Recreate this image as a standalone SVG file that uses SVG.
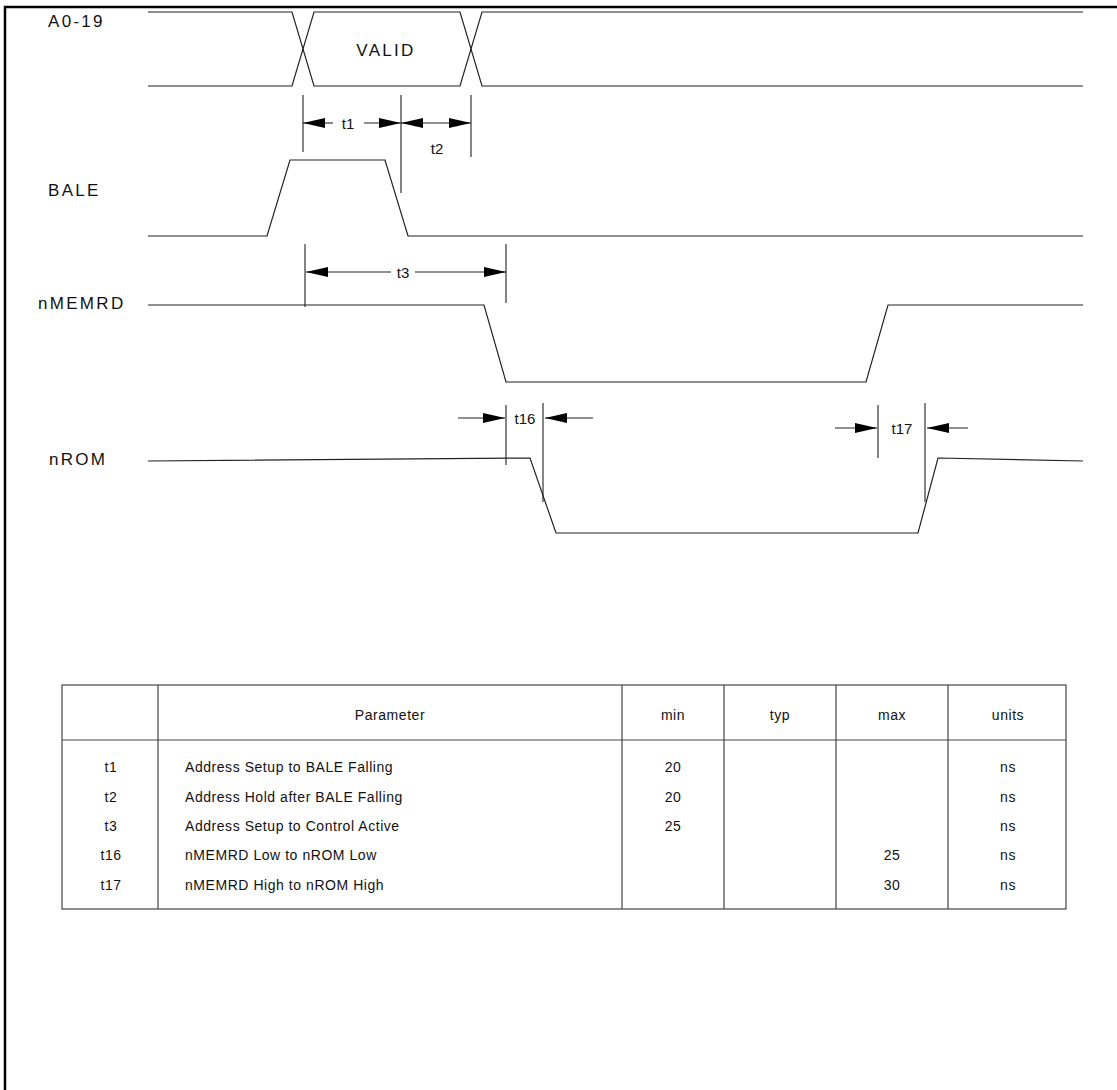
<svg xmlns="http://www.w3.org/2000/svg" width="1117" height="1090" viewBox="0 0 1117 1090">
<defs>
<marker id="ah" markerUnits="userSpaceOnUse" markerWidth="23" markerHeight="11" refX="22" refY="5" orient="auto-start-reverse" viewBox="0 0 23 11">
<path d="M0,0 L22,5 L0,10 Z" fill="#000"/>
</marker>
</defs>
<style>
.sig{fill:none;stroke:#222;stroke-width:1.2}
.dim{fill:none;stroke:#222;stroke-width:1.1}
.arr{fill:none;stroke:#222;stroke-width:1.1;marker-end:url(#ah)}
.arr2{fill:none;stroke:#222;stroke-width:1.1;marker-end:url(#ah);marker-start:url(#ah)}
.lbl{font-family:"Liberation Sans",Arial,sans-serif;font-size:17px;letter-spacing:2.3px;fill:#111}
.tl{font-family:"Liberation Sans",Arial,sans-serif;font-size:15px;fill:#111}
.tb{font-family:"Liberation Sans",Arial,sans-serif;font-size:14px;letter-spacing:0.55px;fill:#111}
.grid{fill:none;stroke:#444;stroke-width:1.2}
</style>
<g id="frame"><path d="M5,1090 L5,7 L1117,7" fill="none" stroke="#000" stroke-width="2.5"/></g>

<g id="A0-19">
<text class="lbl" x="48" y="27">A0-19</text>
<path class="sig" d="M148,12 L292,12 L314,86 L460,86 L482,12 L1083,12"/>
<path class="sig" d="M148,86 L292,86 L314,12 L460,12 L482,86 L1083,86"/>
<text class="lbl" x="386" y="56" text-anchor="middle">VALID</text>
</g>
<g id="BALE">
<text class="lbl" x="48" y="196">BALE</text>
<path class="sig" d="M148,236 L267,236 L290,160 L385,160 L408,236 L1083,236"/>
</g>
<g id="nMEMRD">
<text class="lbl" x="38" y="309">nMEMRD</text>
<path class="sig" d="M148,305 L484,305 L506,382 L866,382 L888,305 L1083,305"/>
</g>
<g id="nROM">
<text class="lbl" x="49" y="465">nROM</text>
<path class="sig" d="M148,461 L530,458 L556,533 L918,533 L938,458 L1083,461"/>
</g>

<g id="connectors">
<!-- t1 / t2 -->
<path class="dim" d="M303,95 V152 M401,95 V193 M471,95 V157"/>
<path class="arr" d="M333,123 H303"/>
<path class="arr" d="M364,123 H401"/>
<path class="arr2" d="M401,123 H471"/>
<text class="tl" x="348" y="129" text-anchor="middle">t1</text>
<text class="tl" x="437" y="154" text-anchor="middle">t2</text>
<!-- t3 -->
<path class="dim" d="M305,244 V307 M506,244 V303"/>
<path class="arr" d="M391,272 H306"/>
<path class="arr" d="M415,272 H506"/>
<text class="tl" x="403" y="278" text-anchor="middle">t3</text>
<!-- t16 -->
<path class="dim" d="M506,405 V465 M543,403 V502"/>
<path class="arr" d="M458,418 H505"/>
<path class="arr" d="M593,418 H545"/>
<text class="tl" x="525" y="424" text-anchor="middle">t16</text>
<!-- t17 -->
<path class="dim" d="M878,405 V458 M925,403 V502"/>
<path class="arr" d="M835,428 H877"/>
<path class="arr" d="M968,428 H927"/>
<text class="tl" x="902" y="434" text-anchor="middle">t17</text>
</g>

<g id="table">
<rect class="grid" x="62" y="685" width="1004" height="224"/>
<path class="grid" d="M62,740 H1066 M158,685 V909 M622,685 V909 M724,685 V909 M836,685 V909 M948,685 V909"/>
<g class="tb" text-anchor="middle">
<text x="390" y="720">Parameter</text>
<text x="673" y="720">min</text>
<text x="780" y="720">typ</text>
<text x="892" y="720">max</text>
<text x="1008" y="720">units</text>
<text x="111" y="772">t1</text>
<text x="111" y="802">t2</text>
<text x="111" y="831">t3</text>
<text x="111" y="860">t16</text>
<text x="111" y="890">t17</text>
<text x="673" y="772">20</text>
<text x="673" y="802">20</text>
<text x="673" y="831">25</text>
<text x="892" y="860">25</text>
<text x="892" y="890">30</text>
<text x="1008" y="772">ns</text>
<text x="1008" y="802">ns</text>
<text x="1008" y="831">ns</text>
<text x="1008" y="860">ns</text>
<text x="1008" y="890">ns</text>
</g>
<g class="tb">
<text x="185" y="772">Address Setup to BALE Falling</text>
<text x="185" y="802">Address Hold after BALE Falling</text>
<text x="185" y="831">Address Setup to Control Active</text>
<text x="185" y="860">nMEMRD Low to nROM Low</text>
<text x="185" y="890">nMEMRD High to nROM High</text>
</g>
</g>
</svg>
